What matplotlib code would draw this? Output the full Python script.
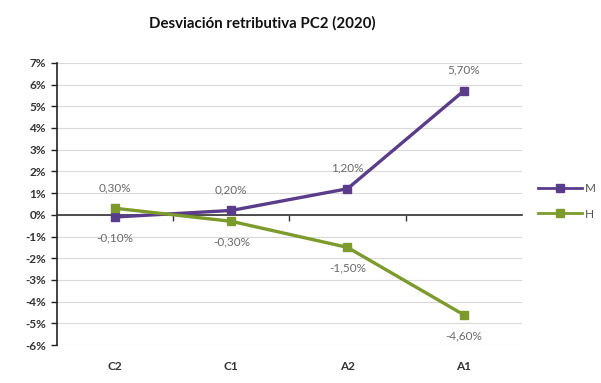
import matplotlib
matplotlib.use("Agg")
import matplotlib.pyplot as plt
from matplotlib.ticker import FixedLocator, FuncFormatter
import matplotlib.transforms as mtransforms

categories = ["C2", "C1", "A2", "A1"]
m_values = [-0.10, 0.20, 1.20, 5.70]
h_values = [0.30, -0.30, -1.50, -4.60]
y_ticks = list(range(-6, 8))

plt.rcParams['font.family'] = ['Lato', 'DejaVu Sans']

m_color = "#5a3d8a"
h_color = "#7d9a2c"
label_color = "#6a6a6a"
axis_color = "#222222"

fig = plt.figure(figsize=(6.01, 3.83), dpi=100)
ax = fig.add_axes([0.095, 0.099, 0.773, 0.737])

x = list(range(len(categories)))
ax.plot(x, m_values, color=m_color, lw=2.4, marker="s", ms=6, label="M", zorder=3)
ax.plot(x, h_values, color=h_color, lw=2.4, marker="s", ms=6, label="H", zorder=3)

ax.set_xlim(-0.5, len(categories) - 0.5)
ax.set_ylim(-6, 7)
ax.yaxis.set_major_locator(FixedLocator(y_ticks))
ax.yaxis.set_major_formatter(FuncFormatter(lambda v, p: f"{int(v)}%"))
ax.grid(axis="y", color="#d9d9d9", lw=0.8)
ax.set_axisbelow(True)

for s in ["top", "right"]:
    ax.spines[s].set_visible(False)
ax.spines["left"].set_color(axis_color)
ax.spines["left"].set_linewidth(1.2)
ax.spines["bottom"].set_position(("data", 0))
ax.spines["bottom"].set_color("#333333")
ax.spines["bottom"].set_linewidth(1.2)

ax.xaxis.set_major_locator(FixedLocator([i + 0.5 for i in x[:-1]]))
ax.xaxis.set_major_formatter(FuncFormatter(lambda v, p: ""))
ax.tick_params(axis="x", length=4, width=1, color="#333333", direction="out")
ax.tick_params(axis="y", length=4, width=1, color=axis_color, direction="out",
               labelsize=8.5, labelcolor="#333333", pad=4)
for t in ax.get_yticklabels():
    t.set_fontweight("bold")

trans = mtransforms.blended_transform_factory(ax.transData, ax.transAxes)
for i, c in enumerate(categories):
    ax.text(i, -0.075, c, transform=trans, ha="center", va="center",
            fontsize=8.5, fontweight="bold", color="#333333")

def fmt(v):
    return f"{v:.2f}".replace(".", ",") + "%"

for i, (mv, hv) in enumerate(zip(m_values, h_values)):
    for v, other in ((mv, hv), (hv, mv)):
        above = v >= other
        ax.annotate(fmt(v), (i, v), xytext=(0, 11 if above else -11),
                    textcoords="offset points", ha="center",
                    va="bottom" if above else "top",
                    fontsize=8.5, color=label_color)

fig.text(0.436, 0.94, "Desviación retributiva PC2 (2020)", ha="center", va="center",
         fontsize=10.8, fontweight="bold", color="#111111")

leg = ax.legend(loc="center left", bbox_to_anchor=(1.0, 0.51), frameon=False,
                fontsize=8.5, handlelength=3.8, labelspacing=1.25, handletextpad=0.2,
                borderaxespad=0.95)
for line in leg.get_lines():
    line.set_linewidth(2.0)
for t in leg.get_texts():
    t.set_color("#555555")

fig.savefig("out.png", dpi=100)
